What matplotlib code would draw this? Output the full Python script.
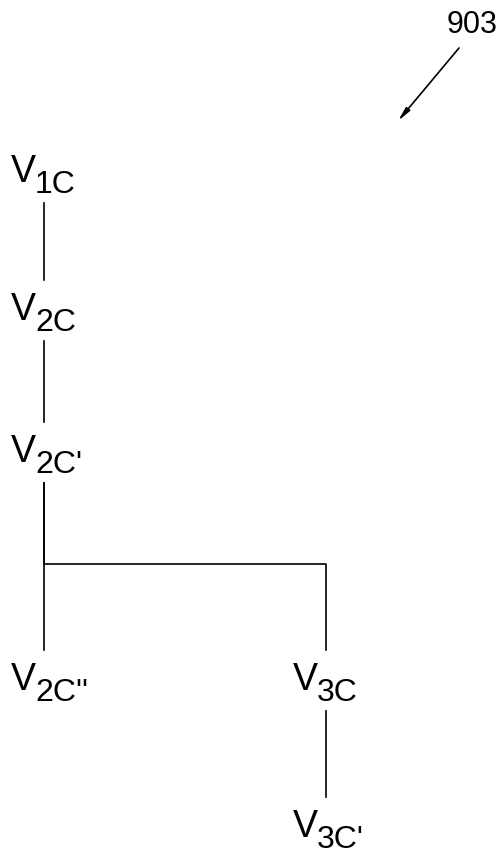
import matplotlib
matplotlib.use("Agg")
import matplotlib.pyplot as plt

# tree nodes: V with subscript, placed by column / row
node_sub = ["1C", "2C", "2C'", "2C''", "3C", "3C'"]
node_col = [0, 0, 0, 0, 1, 1]
node_row = [0, 1, 2, 3, 3, 4]
# parent -> child links
edges = [(0, 1), (1, 2), (2, 3), (2, 4), (4, 5)]
ref_label = "903"

# layout in pixels (y goes down)
col_x = [44, 326]
row_base = [182, 320, 462, 690, 837]
branch_y = 564

fig = plt.figure(figsize=(5.04, 8.58), dpi=100)
ax = fig.add_axes([0, 0, 1, 1])
ax.set_xlim(0, 504)
ax.set_ylim(858, 0)
ax.axis("off")

font = "Liberation Sans"

for sub, c, r in zip(node_sub, node_col, node_row):
    x = col_x[c]
    y = row_base[r]
    ax.text(x - 8, y, "V", fontsize=27, family=font, ha="right", va="baseline")
    ax.text(x - 9, y + 11, sub, fontsize=23, family=font, ha="left", va="baseline")

lw = 1.2
for p, ch in edges:
    x0, y0 = col_x[node_col[p]], row_base[node_row[p]] + 21
    x1, y1 = col_x[node_col[ch]], row_base[node_row[ch]] - 40
    if x0 == x1 and node_row[ch] - node_row[p] == 1:
        ax.plot([x0, x1], [y0, y1], color="black", lw=lw)
    else:
        # branch through a horizontal junction
        ax.plot([x0, x0, x1, x1], [y0, branch_y, branch_y, y1], color="black", lw=lw)

ax.text(472, 33, ref_label, fontsize=22, family=font, ha="center", va="baseline")
ax.annotate("", xy=(398, 121), xytext=(459, 48),
            arrowprops=dict(arrowstyle="-|>,head_length=0.8,head_width=0.15",
                            color="black", lw=1.2, shrinkA=0, shrinkB=0))

fig.savefig("out.png", dpi=100)
